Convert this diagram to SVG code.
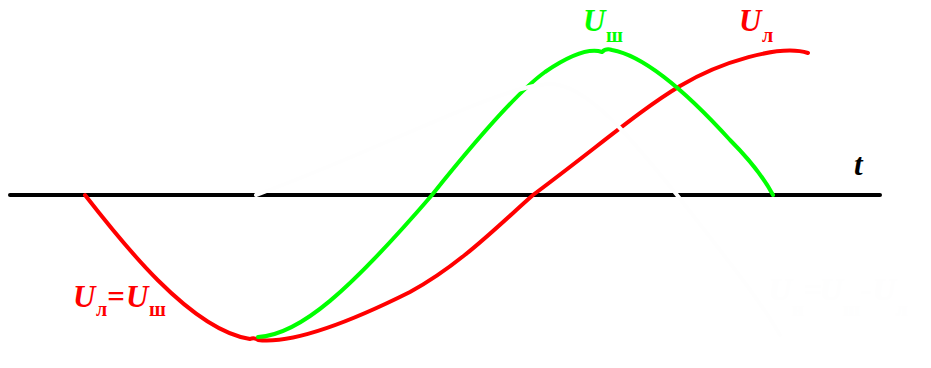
<svg xmlns="http://www.w3.org/2000/svg" width="931" height="368" viewBox="0 0 931 368">
<style>
.curve{fill:none;stroke-width:4;stroke-linecap:round;stroke-linejoin:round}
.u{font-family:"Liberation Serif",serif;font-weight:bold;font-style:italic;font-size:31px}
.s{font-family:"Liberation Serif",serif;font-weight:bold;font-size:20px}
</style>
<rect width="931" height="368" fill="#ffffff"/>
<g id="connectors">
<line id="axis" x1="10" y1="195" x2="880" y2="195" stroke="#000" stroke-width="4" stroke-linecap="round"/>
<path id="ul-curve" class="curve" stroke="#ff0000" d="M85,195 C120,240 190,330 250,339 Q254,337 258,340 C300,345 370,312 410,292 C460,265 500,224 533,195 C600,145 640,110 680,86 C720,62 780,44 808,53"/>
<path id="ush-curve" class="curve" stroke="#00ff00" d="M258,337 C300,335 350,290 432,195 C480,135 520,90 545,72 C570,55 590,48 602,52 Q606,48 612,50 C640,55 680,85 730,140 C750,160 765,180 773,195"/>
<path id="un-curve" class="curve" stroke="#fefefe" stroke-width="3.5" d="M256,195 C380,150 500,85 550,84 C590,84 640,150 677,195 C720,250 760,300 780,335"/>
</g>
<g id="label-t"><text class="u" x="854" y="175" fill="#000">t</text></g>
<g id="label-ush" fill="#00ff00"><text class="u" x="583" y="31">U</text><text class="s" x="606" y="42">ш</text></g>
<g id="label-ul" fill="#ff0000"><text class="u" x="739" y="31">U</text><text class="s" x="762" y="42">л</text></g>
<g id="label-eq" fill="#ff0000"><text class="u" x="73" y="307">U</text><text class="s" x="96" y="316">л</text><text class="u" x="107" y="307" font-style="normal">=</text><text class="u" x="126" y="307">U</text><text class="s" x="149" y="316">ш</text></g>
<g id="label-un" fill="#fefefe"><text class="u" x="769" y="300">U</text><text class="s" x="792" y="316">н</text><text class="u" x="804" y="300" font-style="normal">=</text><text class="u" x="820" y="300">U</text><text class="s" x="843" y="316">ш</text><text class="u" x="861" y="300" font-style="normal">-</text><text class="u" x="873" y="300">U</text><text class="s" x="896" y="316">л</text></g>
</svg>
